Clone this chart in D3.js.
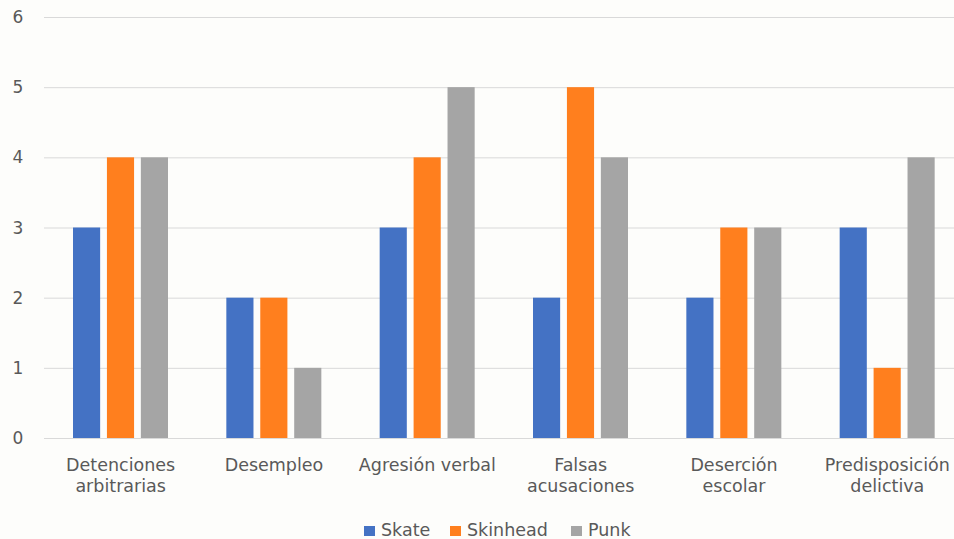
<!DOCTYPE html>
<html>
<head>
<meta charset="utf-8">
<script src="https://cdn.jsdelivr.net/npm/d3@7"></script>
<style>
  body { margin: 0; background: #fdfdfb; overflow: hidden; }
  text { font-family: "DejaVu Sans", sans-serif; fill: #595959; }
</style>
</head>
<body>
<script>
// data
var categories = [["Detenciones", "arbitrarias"], ["Desempleo"], ["Agresión verbal"],
                  ["Falsas", "acusaciones"], ["Deserción", "escolar"], ["Predisposición", "delictiva"]];
var seriesNames = ["Skate", "Skinhead", "Punk"];
var skate    = [3, 2, 3, 2, 2, 3];
var skinhead = [4, 2, 4, 5, 3, 1];
var punk     = [4, 1, 5, 4, 3, 4];
var yTicks = [0, 1, 2, 3, 4, 5, 6];
var colors = ["#4472c4", "#ff7f1e", "#a5a5a5"];

var W = 954, H = 539;
var svg = d3.select("body").append("svg")
    .attr("width", W)
    .attr("height", H);

var x = d3.scaleBand()
    .domain(d3.range(categories.length))
    .range([44, 964]);

var x1 = d3.scaleBand()
    .domain(seriesNames)
    .range([29, 124])
    .paddingInner(0.2);

var y = d3.scaleLinear()
    .domain([0, 6])
    .range([438, 17]);

//gridlines
svg.selectAll("line.grid")
    .data(yTicks)
    .enter().append("line")
    .attr("x1", 44).attr("x2", W)
    .attr("y1", function(d) { return y(d) + 0.5; })
    .attr("y2", function(d) { return y(d) + 0.5; })
    .attr("stroke", "#d9d9d9")
    .attr("stroke-width", 1);

//y labels
svg.selectAll("text.ytick")
    .data(yTicks)
    .enter().append("text")
    .attr("x", 18)
    .attr("y", function(d) { return y(d) + 6; })
    .attr("text-anchor", "middle")
    .style("font-size", "17px")
    .text(function(d) { return d; });

//bars
var allSeries = [skate, skinhead, punk];
var groups = svg.selectAll("g.series")
    .data(allSeries)
    .enter().append("g")
    .attr("fill", function(d, i) { return colors[i]; });

groups.each(function(vals, si) {
  d3.select(this).selectAll("rect")
    .data(vals)
    .enter().append("rect")
    .attr("x", function(d, i) { return x(i) + x1(seriesNames[si]); })
    .attr("width", x1.bandwidth())
    .attr("y", function(d) { return y(d); })
    .attr("height", function(d) { return y(0) - y(d); });
});

//x labels
var xl = svg.selectAll("text.xlab")
    .data(categories)
    .enter().append("text")
    .attr("text-anchor", "middle")
    .style("font-size", "17.5px")
    .attr("transform", function(d, i) { return "translate(" + (x(i) + x.bandwidth() / 2) + ",471)"; });
xl.selectAll("tspan")
    .data(function(d) { return d; })
    .enter().append("tspan")
    .attr("x", 0)
    .attr("dy", function(d, i) { return i === 0 ? 0 : 21; })
    .text(function(d) { return d; });

//legend
var legendX = [364, 450, 571];
var lg = svg.selectAll("g.legend")
    .data(seriesNames)
    .enter().append("g")
    .attr("transform", function(d, i) { return "translate(" + legendX[i] + ",526)"; });
lg.append("rect")
    .attr("width", 11).attr("height", 10)
    .attr("fill", function(d, i) { return colors[i]; });
lg.append("text")
    .attr("x", 17).attr("y", 10)
    .style("font-size", "17.5px")
    .text(function(d) { return d; });
</script>
</body>
</html>
